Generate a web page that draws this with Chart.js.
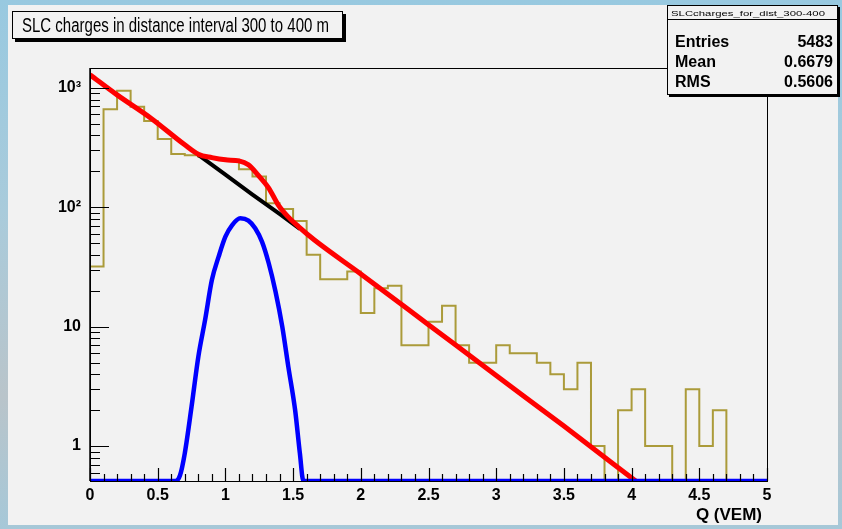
<!DOCTYPE html>
<html>
<head>
<meta charset="utf-8">
<script src="https://cdn.jsdelivr.net/npm/chart.js@4.4.1/dist/chart.umd.min.js"></script>
<style>
	html, body { margin: 0; padding: 0; }
	body {
		width: 842px; height: 529px; overflow: hidden;
		background: linear-gradient(to bottom, #98c9e0 0%, #a9cbdb 40%, #b9c4ca 75%, #a6c8d8 100%);
	}
	#wrap { position: relative; width: 842px; height: 529px; }
</style>
</head>
<body>
<div id="wrap"><canvas id="c" width="842" height="529"></canvas></div>
<script>
// histogram: 50 bins of 0.1 VEM starting at 0
const binLow = 0;
const binWidth = 0.1;
const histCounts = [
	32, 664, 946, 695, 530, 374, 280, 273, 265, 255,
	250, 209, 181, 108, 97, 77, 40, 25, 25, 29,
	13, 21, 22, 7, 7, 11, 15, 7, 5, 5,
	7, 6, 6, 5, 4, 3, 5, 1, 0, 2,
	3, 1, 1, 0, 3, 1, 2, 0, 0, 0
];

// total fit (red)
const redX = [0, 0.2, 0.45, 0.7, 0.8, 0.9, 1.0, 1.1, 1.17, 1.24, 1.32, 1.39, 1.46, 1.54, 1.66, 2.0, 2.5, 3.0, 3.5, 4.03];
const redY = [1290, 875, 558, 334, 279, 261, 250, 245, 227, 187, 145, 105, 84, 69, 53, 27.7, 10.4, 3.9, 1.47, 0.51];

// exponential part under the bump (black)
const blackX = [0.8, 1.0, 1.2, 1.4, 1.55];
const blackY = [275, 188, 128, 88, 66];

// gaussian part (blue), sits on the axis floor outside the peak
const blueX = [0, 0.63, 0.665, 0.70, 0.75, 0.80, 0.85, 0.90, 0.95, 1.00, 1.05, 1.11, 1.17, 1.22, 1.27, 1.32, 1.37, 1.42, 1.465, 1.515, 1.55, 1.576, 5];
const blueY = [0.51, 0.51, 0.57, 0.87, 2.14, 5.6, 11.4, 24.6, 38.6, 56.8, 71.1, 81, 77.5, 66.8, 51.6, 34, 19.7, 10, 4.6, 2.0, 0.87, 0.51, 0.51];

const yMin = 0.51;
const yMax = 1470;
const xTickValues = [0, 0.5, 1, 1.5, 2, 2.5, 3, 3.5, 4, 4.5, 5];
const xTickLabels = ['0', '0.5', '1', '1.5', '2', '2.5', '3', '3.5', '4', '4.5', '5'];
const yTickValues = [1, 10, 100, 1000];
const yTickLabels = ['1', '10', '10\u00B2', '10\u00B3'];

const titleText = 'SLC charges in distance interval 300 to 400 m';
const xTitle = 'Q (VEM)';
const statsName = 'SLCcharges_for_dist_300-400';
const statsRows = [['Entries', '5483'], ['Mean', '0.6679'], ['RMS', '0.5606']];

const FONT = '"Liberation Sans", Arial, Helvetica, sans-serif';

function zip(xs, ys) {
	return xs.map((x, i) => ({ x: x, y: ys[i] }));
}

function hist_points() {
	let pts = [];
	for (let i = 0; i < histCounts.length; ++i) {
		pts.push({ x: binLow + i * binWidth, y: histCounts[i] > 0 ? histCounts[i] : yMin });
	}
	pts.push({ x: binLow + histCounts.length * binWidth, y: yMin });
	return pts;
}

// text squeezed horizontally to a given width (ROOT's helvetica is narrower)
function fit_text(c, text, x, y, width) {
	const w = c.measureText(text).width;
	c.save();
	c.translate(x, y);
	c.scale(width / w, 1);
	c.fillText(text, 0, 0);
	c.restore();
}

const decor = {
	id: 'decor',
	beforeDraw(chart) {
		const c = chart.ctx;
		c.save();
		c.fillStyle = '#f2f2f2';
		c.fillRect(8, 5, 830, 520);
		c.restore();
	},
	afterDatasetsDraw(chart) {
		const c = chart.ctx;
		const a = chart.chartArea;
		const xs = chart.scales.x, ys = chart.scales.y;
		c.save();
		c.strokeStyle = '#000';
		c.lineWidth = 1;
		c.strokeRect(a.left + 0.5, a.top + 0.5, a.right - a.left, a.bottom - a.top);
		c.lineWidth = 1.5;
		c.beginPath();
		c.moveTo(a.left, a.top); c.lineTo(a.left, a.bottom);
		c.stroke();

		// ticks drawn inside the frame, ROOT style
		c.lineWidth = 1.2;
		c.beginPath();
		for (let i = 0; i <= 50; ++i) {
			const px = Math.round(xs.getPixelForValue(i * 0.1)) + 0.5;
			const len = (i % 5 === 0) ? 13 : 7;
			c.moveTo(px, a.bottom); c.lineTo(px, a.bottom - len);
		}
		for (let k = -1; k <= 3; ++k) {
			for (let m = 1; m <= 9; ++m) {
				const v = m * Math.pow(10, k);
				if (v < yMin || v > yMax) continue;
				const py = Math.round(ys.getPixelForValue(v)) + 0.5;
				const len = (m === 1) ? 19 : 10;
				c.moveTo(a.left, py); c.lineTo(a.left + len, py);
			}
		}
		c.stroke();

		c.fillStyle = '#000';
		c.font = 'bold 17px ' + FONT;
		c.textAlign = 'right';
		c.textBaseline = 'alphabetic';
		c.fillText(xTitle, a.right - 5, 520);
		c.restore();
	},
	afterDraw(chart) {
		const c = chart.ctx;
		c.save();
		// title box with shadow
		c.fillStyle = '#000';
		c.fillRect(15, 14, 331, 28);
		c.fillStyle = '#f2f2f2';
		c.fillRect(12, 11, 331, 28);
		c.strokeStyle = '#000';
		c.lineWidth = 1;
		c.strokeRect(12.5, 11.5, 330, 27);
		c.font = '20px ' + FONT;
		c.fillStyle = '#000';
		c.textBaseline = 'alphabetic';
		c.textAlign = 'left';
		fit_text(c, titleText, 22, 32, 307);

		// stats box
		c.fillStyle = '#000';
		c.fillRect(669, 7, 171, 90);
		c.fillStyle = '#f2f2f2';
		c.fillRect(667, 5, 171, 90);
		c.strokeRect(667.5, 5.5, 170, 89);
		c.beginPath();
		c.moveTo(667, 19.5); c.lineTo(838, 19.5);
		c.stroke();
		c.fillStyle = '#000';
		c.font = '8px ' + FONT;
		fit_text(c, statsName, 671, 15.5, 154);
		c.font = 'bold 16px ' + FONT;
		for (let i = 0; i < statsRows.length; ++i) {
			const yb = 47 + i * 20;
			c.textAlign = 'left';
			c.fillText(statsRows[i][0], 675, yb);
			c.textAlign = 'right';
			c.fillText(statsRows[i][1], 833, yb);
		}
		c.restore();
	}
};

const tickFont = { family: FONT, size: 16, weight: 'bold' };

const chart = new Chart(document.getElementById('c'), {
	type: 'line',
	data: {
		datasets: [
			{ // gaussian
				data: zip(blueX, blueY),
				borderColor: '#0000ff',
				borderWidth: 4.5,
				cubicInterpolationMode: 'monotone',
				order: 0
			}, { // total fit
				data: zip(redX, redY),
				borderColor: '#ff0000',
				borderWidth: 5,
				cubicInterpolationMode: 'monotone',
				order: 1
			}, { // exponential
				data: zip(blackX, blackY),
				borderColor: '#000000',
				borderWidth: 4,
				order: 2
			}, { // histogram
				data: hist_points(),
				borderColor: '#ab9b3a',
				borderWidth: 2,
				stepped: 'before',
				order: 3
			}
		]
	},
	options: {
		responsive: false,
		animation: false,
		layout: { padding: { left: 0, right: 75, top: 68, bottom: 0 } },
		elements: { point: { radius: 0 }, line: { tension: 0 } },
		plugins: { legend: { display: false }, tooltip: { enabled: false }, title: { display: false } },
		scales: {
			x: {
				type: 'linear',
				min: 0,
				max: 5,
				grid: { display: false, drawTicks: false },
				border: { display: false },
				afterBuildTicks: (s) => { s.ticks = xTickValues.map(v => ({ value: v })); },
				afterFit: (s) => { s.height = 48; },
				ticks: {
					autoSkip: false,
					maxRotation: 0,
					padding: 5,
					color: '#000',
					font: tickFont,
					callback: (v, i) => xTickLabels[i]
				}
			},
			y: {
				type: 'logarithmic',
				min: yMin,
				max: yMax,
				grid: { display: false, drawTicks: false },
				border: { display: false },
				afterBuildTicks: (s) => { s.ticks = yTickValues.map(v => ({ value: v })); },
				afterFit: (s) => { s.width = 90; },
				ticks: {
					autoSkip: false,
					padding: 9,
					color: '#000',
					font: tickFont,
					callback: (v, i) => yTickLabels[i]
				}
			}
		}
	},
	plugins: [decor]
});
</script>
</body>
</html>
